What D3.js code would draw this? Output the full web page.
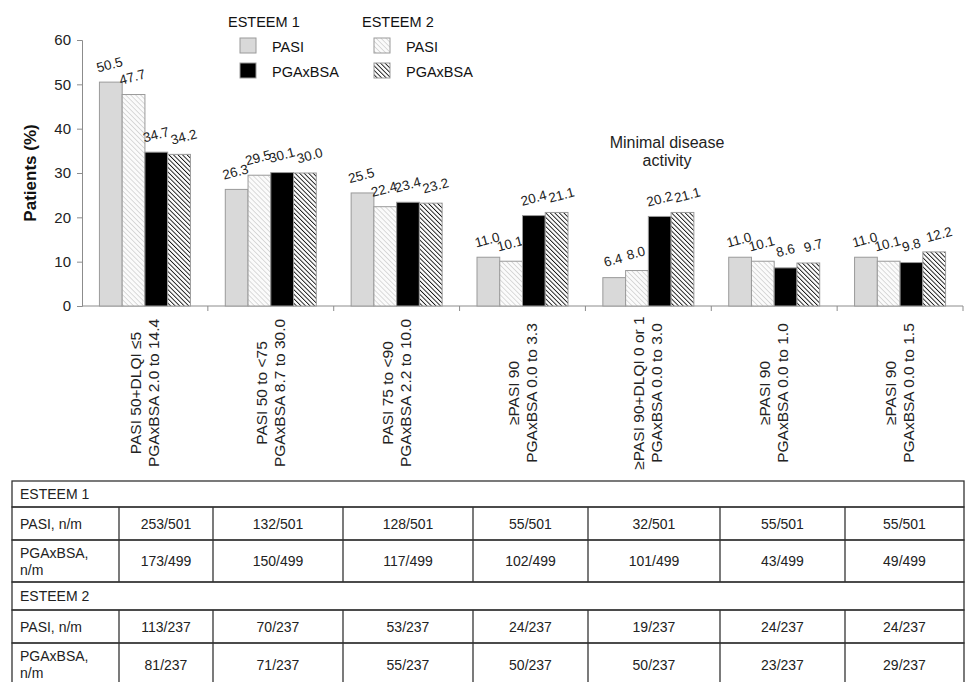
<!DOCTYPE html>
<html>
<head>
<meta charset="utf-8">
<script src="https://cdn.jsdelivr.net/npm/d3@7"></script>
<style>
  html, body { margin: 0; padding: 0; background: #fff; }
  svg { display: block; font-family: "Liberation Sans", Arial, sans-serif; }
</style>
</head>
<body>
<svg id="chart" width="967" height="682"></svg>
<script>
// Response categories (two text lines each)
const categories = [
  ["PASI 50+DLQI \u22645", "PGAxBSA 2.0 to 14.4"],
  ["PASI 50 to <75", "PGAxBSA 8.7 to 30.0"],
  ["PASI 75 to <90", "PGAxBSA 2.2 to 10.0"],
  ["\u2265PASI 90", "PGAxBSA 0.0 to 3.3"],
  ["\u2265PASI 90+DLQI 0 or 1", "PGAxBSA 0.0 to 3.0"],
  ["\u2265PASI 90", "PGAxBSA 0.0 to 1.0"],
  ["\u2265PASI 90", "PGAxBSA 0.0 to 1.5"]
];

// Patients (%) per series
const esteem1Pasi = [50.5, 26.3, 25.5, 11.0, 6.4, 11.0, 11.0];
const esteem2Pasi = [47.7, 29.5, 22.4, 10.1, 8.0, 10.1, 10.1];
const esteem1Pga  = [34.7, 30.1, 23.4, 20.4, 20.2, 8.6, 9.8];
const esteem2Pga  = [34.2, 30.0, 23.2, 21.1, 21.1, 9.7, 12.2];

// n/m counts for the table below the chart
const esteem1PasiNm = ["253/501", "132/501", "128/501", "55/501", "32/501", "55/501", "55/501"];
const esteem1PgaNm  = ["173/499", "150/499", "117/499", "102/499", "101/499", "43/499", "49/499"];
const esteem2PasiNm = ["113/237", "70/237", "53/237", "24/237", "19/237", "24/237", "24/237"];
const esteem2PgaNm  = ["81/237", "71/237", "55/237", "50/237", "50/237", "23/237", "29/237"];

const yTicks = [0, 10, 20, 30, 40, 50, 60];

const series = [
  { key: "e1pasi", values: esteem1Pasi, fill: "#d9d9d9", dx: 0 },
  { key: "e2pasi", values: esteem2Pasi, fill: "url(#hatchLight)", dx: 0 },
  { key: "e1pga",  values: esteem1Pga,  fill: "#000000", dx: 1 },
  { key: "e2pga",  values: esteem2Pga,  fill: "url(#hatchDark)", dx: 6 }
];

const svg = d3.select("#chart");
const defs = svg.append("defs");

// light diagonal hatch
const pl = defs.append("pattern").attr("id", "hatchLight")
  .attr("patternUnits", "userSpaceOnUse").attr("width", 3.5).attr("height", 3.5)
  .attr("patternTransform", "rotate(-45)");
pl.append("rect").attr("width", 3.5).attr("height", 3.5).attr("fill", "#fbfbfb");
pl.append("line").attr("x1", 0).attr("y1", 0).attr("x2", 0).attr("y2", 3.5)
  .attr("stroke", "#c8c8c8").attr("stroke-width", 1.3);

// dense dark diagonal hatch
const pd = defs.append("pattern").attr("id", "hatchDark")
  .attr("patternUnits", "userSpaceOnUse").attr("width", 3.2).attr("height", 3.2)
  .attr("patternTransform", "rotate(-45)");
pd.append("rect").attr("width", 3.2).attr("height", 3.2).attr("fill", "#ffffff");
pd.append("line").attr("x1", 0).attr("y1", 0).attr("x2", 0).attr("y2", 3.2)
  .attr("stroke", "#111").attr("stroke-width", 1.8);

const plotLeft = 82, plotRight = 963, plotTop = 40, plotBottom = 306;

const x0 = d3.scaleBand().domain(d3.range(categories.length)).range([plotLeft, plotRight]).paddingInner(0).paddingOuter(0);
const groupWidth = 91;
const x1 = d3.scaleBand().domain(series.map(s => s.key)).range([0, groupWidth]);
const y = d3.scaleLinear().domain([0, 60]).range([plotBottom, plotTop]);

// Y axis
const yAxis = svg.append("g").attr("transform", `translate(${plotLeft},0)`)
  .call(d3.axisLeft(y).tickValues(yTicks).tickSize(5).tickPadding(6));
yAxis.select(".domain").attr("stroke", "#8c8c8c");
yAxis.selectAll(".tick line").attr("stroke", "#8c8c8c");
yAxis.selectAll(".tick text").attr("font-size", 15).attr("fill", "#222")
  .attr("font-family", "Liberation Sans, Arial, sans-serif");

// X axis baseline with ticks at category boundaries
const bounds = d3.range(categories.length + 1).map(i => i === categories.length ? plotRight : x0(i));
svg.append("line").attr("x1", plotLeft).attr("x2", plotRight).attr("y1", plotBottom).attr("y2", plotBottom)
  .attr("stroke", "#8c8c8c");
svg.selectAll(".xtick").data(bounds.slice(1)).join("line")
  .attr("x1", d => d).attr("x2", d => d).attr("y1", plotBottom).attr("y2", plotBottom + 5)
  .attr("stroke", "#8c8c8c");

// Bars
const groups = svg.selectAll(".grp").data(categories).join("g")
  .attr("transform", (d, i) => `translate(${x0(i) + (x0.bandwidth() - groupWidth) / 2},0)`);

series.forEach(s => {
  groups.append("rect")
    .attr("x", x1(s.key))
    .attr("y", (d, i) => y(s.values[i]))
    .attr("width", x1.bandwidth())
    .attr("height", (d, i) => plotBottom - y(s.values[i]))
    .attr("fill", s.fill)
    .attr("stroke", "#9a9a9a")
    .attr("stroke-width", 1);
  groups.append("text")
    .attr("transform", (d, i) => {
      const cx = x1(s.key) + x1.bandwidth() / 2 + s.dx;
      const cy = y(s.values[i]) - 13;
      return `translate(${cx},${cy}) rotate(-15)`;
    })
    .attr("text-anchor", "middle")
    .attr("font-size", 13.5)
    .attr("fill", "#222")
    .text((d, i) => s.values[i].toFixed(1));
});

// Category labels, rotated
const catG = svg.selectAll(".cat").data(categories).join("g")
  .attr("transform", (d, i) => `translate(${x0(i) + x0.bandwidth() / 2},393) rotate(-90)`);
catG.append("text").attr("text-anchor", "middle").attr("y", -4)
  .attr("font-size", 15.5).attr("fill", "#222").text(d => d[0]);
catG.append("text").attr("text-anchor", "middle").attr("y", 14)
  .attr("font-size", 15.5).attr("fill", "#222").text(d => d[1]);

// Y axis title
svg.append("text").attr("transform", "translate(36,173) rotate(-90)")
  .attr("text-anchor", "middle").attr("font-size", 17).attr("font-weight", "bold")
  .attr("fill", "#111").text("Patients (%)");

// Annotation
const ann = svg.append("text").attr("text-anchor", "middle").attr("font-size", 16).attr("fill", "#222");
ann.append("tspan").attr("x", 667).attr("y", 148).text("Minimal disease");
ann.append("tspan").attr("x", 667).attr("y", 166).text("activity");

// Legend
const legend = [
  { title: "ESTEEM 1", x: 228, items: [{ label: "PASI", fill: "#d9d9d9" }, { label: "PGAxBSA", fill: "#000" }] },
  { title: "ESTEEM 2", x: 362, items: [{ label: "PASI", fill: "url(#hatchLight)" }, { label: "PGAxBSA", fill: "url(#hatchDark)" }] }
];
const lg = svg.selectAll(".lg").data(legend).join("g").attr("transform", d => `translate(${d.x},0)`);
lg.append("text").attr("x", 0).attr("y", 27).attr("font-size", 14.5).attr("fill", "#111").text(d => d.title);
lg.each(function (d) {
  const g = d3.select(this);
  d.items.forEach((it, k) => {
    g.append("rect").attr("x", 12).attr("y", 38 + k * 25).attr("width", 16).attr("height", 15)
      .attr("fill", it.fill).attr("stroke", "#9a9a9a");
    g.append("text").attr("x", 44).attr("y", 52 + k * 25).attr("font-size", 14.5).attr("fill", "#111").text(it.label);
  });
});

// Table
const tLeft = 12, tRight = 964;
const colEdges = [tLeft, 119, 213, 343, 473, 588, 720, 845, tRight];
const rows = [
  { type: "head", label: ["ESTEEM 1"], y0: 481, y1: 507 },
  { type: "data", label: ["PASI, n/m"], values: esteem1PasiNm, y0: 507, y1: 540 },
  { type: "data", label: ["PGAxBSA,", "n/m"], values: esteem1PgaNm, y0: 540, y1: 582 },
  { type: "head", label: ["ESTEEM 2"], y0: 582, y1: 610 },
  { type: "data", label: ["PASI, n/m"], values: esteem2PasiNm, y0: 610, y1: 643 },
  { type: "data", label: ["PGAxBSA,", "n/m"], values: esteem2PgaNm, y0: 643, y1: 686 }
];
const tg = svg.append("g").attr("font-size", 14).attr("fill", "#222");
const lineColor = "#333";
rows.forEach(r => {
  tg.append("rect").attr("x", tLeft).attr("y", r.y0).attr("width", tRight - tLeft).attr("height", r.y1 - r.y0)
    .attr("fill", "none").attr("stroke", lineColor).attr("stroke-width", 1.3);
  const lab = tg.append("text").attr("x", 20);
  if (r.label.length === 1) {
    lab.attr("y", (r.y0 + r.y1) / 2 + 5).text(r.label[0]);
  } else {
    lab.append("tspan").attr("x", 20).attr("y", r.y0 + 18).text(r.label[0]);
    lab.append("tspan").attr("x", 20).attr("y", r.y0 + 35).text(r.label[1]);
  }
  if (r.type === "data") {
    colEdges.slice(1, -1).forEach(cx => {
      tg.append("line").attr("x1", cx).attr("x2", cx).attr("y1", r.y0).attr("y2", r.y1)
        .attr("stroke", lineColor).attr("stroke-width", 1.3);
    });
    r.values.forEach((v, i) => {
      tg.append("text").attr("x", (colEdges[i + 1] + colEdges[i + 2]) / 2)
        .attr("y", (r.y0 + r.y1) / 2 + 5).attr("text-anchor", "middle").text(v);
    });
  }
});
</script>
</body>
</html>
